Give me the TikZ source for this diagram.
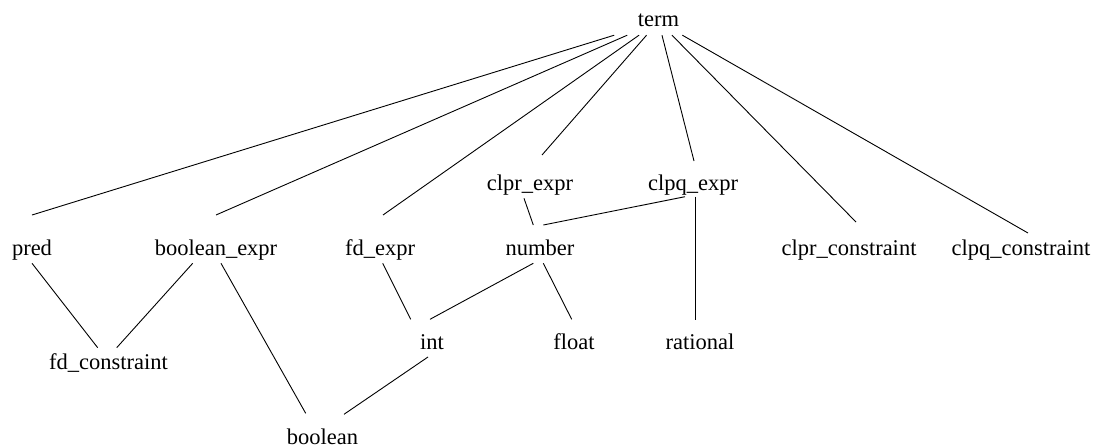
\documentclass[tikz,border=0pt]{standalone}
\usepackage{fontspec}
\setmainfont{Liberation Serif}
\usetikzlibrary{calc}
\begin{document}
\begin{tikzpicture}[x=1pt,y=-1pt,
  lbl/.style={inner sep=0pt, anchor=base, font=\fontsize{22.5}{27}\selectfont},
  link/.style={draw=black, line width=0.9pt}]
\useasboundingbox (0,0) rectangle (1095,447);
% nodes
\node[lbl, inner xsep=40pt, text height=18pt, text depth=9pt] (term) at (658.5,26) {term};
\node[lbl] (clprexpr) at (530,190) {clpr\_expr};
\node[lbl] (clpqexpr) at (693,190) {clpq\_expr};
\node[lbl] (pred) at (32,255) {pred};
\node[lbl] (bexpr) at (216,255) {boolean\_expr};
\node[lbl] (fdexpr) at (380,255) {fd\_expr};
\node[lbl] (number) at (540,255) {number};
\node[lbl] (clprc) at (849,255) {clpr\_constraint};
\node[lbl] (clpqc) at (1021,255) {clpq\_constraint};
\node[lbl] (int) at (432,349) {int};
\node[lbl] (float) at (574,349) {float};
\node[lbl] (rational) at (700,349) {rational};
\node[lbl] (fdc) at (108.5,369) {fd\_constraint};
\node[lbl] (bool) at (322.5,444) {boolean};
% edges from term
\draw[link] (term) -- ($(pred.base)+(0,-40)$);
\draw[link] (term) -- ($(bexpr.base)+(0,-40)$);
\draw[link] (term) -- ($(fdexpr.base)+(3,-40)$);
\draw[link] (term) -- ($(clprexpr.base)+(12,-35)$);
\draw[link] (term) -- ($(clpqexpr.base)+(1,-29)$);
\draw[link] (term) -- ($(clprc.base)+(7,-33)$);
\draw[link] (term) -- ($(clpqc.base)+(7,-22)$);
% other edges
\draw[link] ($(pred.base)+(0,8.3)$) -- ($(fdc.base)+(-10.8,-21.3)$);
\draw[link] ($(bexpr.base)+(-23.3,8.3)$) -- ($(fdc.base)+(8.2,-21.3)$);
\draw[link] ($(bexpr.base)+(5,8.3)$) -- ($(bool.base)+(-16.8,-30.7)$);
\draw[link] ($(fdexpr.base)+(2.7,8.3)$) -- ($(int.base)+(-21.3,-29.7)$);
\draw[link] ($(clprexpr.base)+(-6,8.3)$) -- ($(number.base)+(-6.7,-30)$);
\draw[link] ($(clpqexpr.base)+(-8,6.7)$) -- ($(number.base)+(3.3,-30)$);
\draw[link] ($(clpqexpr.base)+(2,6.7)$) -- ($(rational.base)+(-5,-29)$);
\draw[link] ($(number.base)+(-6.7,8.3)$) -- ($(int.base)+(-2,-29.7)$);
\draw[link] ($(number.base)+(3.3,8.3)$) -- ($(float.base)+(-2.3,-29.7)$);
\draw[link] ($(int.base)+(-4,8)$) -- ($(bool.base)+(21.5,-29.7)$);
\end{tikzpicture}
\end{document}
